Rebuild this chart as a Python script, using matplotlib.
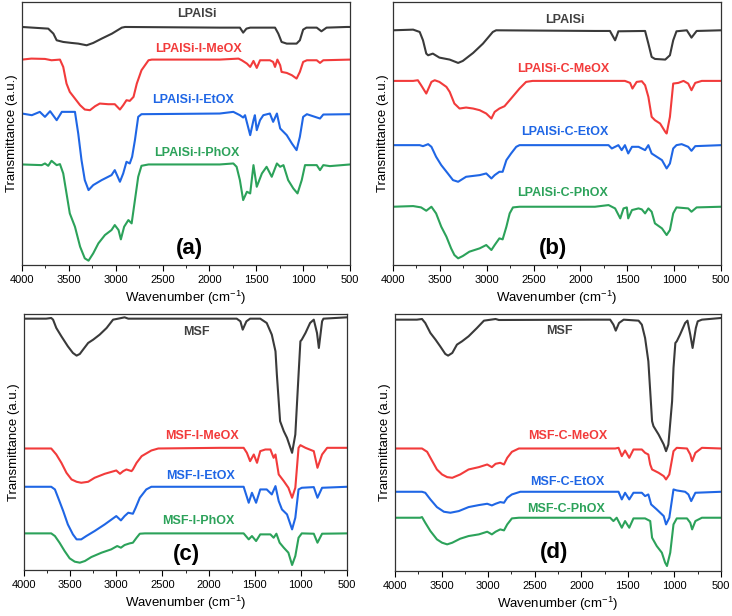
import matplotlib
matplotlib.use("Agg")
import matplotlib.pyplot as plt
from matplotlib.ticker import MultipleLocator

plt.rcParams['font.family'] = ['Liberation Sans', 'DejaVu Sans']
plt.rcParams['mathtext.default'] = 'regular'

# ---- panel (a) ----
a_gray_w = [4000, 3720, 3665, 3630, 3560, 3470, 3400, 3310, 3240, 3150, 3040, 2935, 2900, 1890, 1675, 1640, 1605, 1565, 1300, 1265, 1230, 1175, 1070, 1035, 1000, 965, 855, 805, 750, 535, 500]
a_gray_t = [72.0, 71.5, 70.0, 68.0, 67.5, 67.2, 67.0, 66.5, 67.2, 68.5, 70.0, 71.8, 72.0, 71.8, 71.8, 70.3, 71.5, 71.8, 71.8, 70.0, 67.5, 67.0, 67.0, 68.0, 71.2, 71.8, 71.8, 70.7, 71.8, 72.0, 72.0]
a_red_w = [4000, 3900, 3755, 3685, 3595, 3560, 3525, 3490, 3435, 3380, 3330, 3275, 3220, 3170, 3080, 3010, 2955, 2920, 2885, 2850, 2810, 2775, 2725, 2650, 2615,
           1890, 1690, 1655, 1600, 1565, 1530, 1495, 1460, 1355, 1320, 1300, 1275, 1245, 1230, 1175, 1120, 1070, 1035, 1000, 960, 855, 820, 785, 500]
a_red_t = [62.2, 62.5, 62.4, 62.0, 62.2, 60.0, 55.0, 52.5, 50.5, 48.5, 47.2, 47.0, 48.2, 49.0, 48.8, 48.8, 47.2, 48.5, 50.0, 49.8, 51.0, 55.0, 59.0, 62.0, 62.2,
           62.2, 62.5, 62.0, 61.0, 60.0, 61.8, 59.7, 62.0, 62.0, 61.5, 60.0, 62.2, 60.5, 58.5, 58.2, 57.5, 56.5, 58.5, 61.5, 62.0, 62.0, 61.2, 62.0, 62.2]
a_blue_w = [4000, 3895, 3810, 3755, 3700, 3630, 3575, 3435, 3400, 3365, 3330, 3290, 3240, 3150, 3045, 3010, 2955, 2920, 2885, 2850, 2825, 2795, 2760, 2725,
            1890, 1745, 1675, 1640, 1620, 1565, 1530, 1515, 1495, 1460, 1425, 1355, 1320, 1280, 1245, 1210, 1175, 1120, 1070, 1035, 1000, 960, 820, 785, 500]
a_blue_t = [46.0, 45.5, 46.5, 45.0, 46.7, 44.0, 46.5, 46.5, 40.0, 32.0, 26.0, 23.0, 24.5, 26.0, 27.5, 29.0, 25.5, 28.0, 31.5, 31.0, 33.0, 38.0, 45.0, 45.8,
            46.0, 46.5, 45.5, 44.8, 45.5, 39.5, 44.0, 45.5, 41.0, 44.0, 45.5, 46.0, 43.5, 46.0, 41.5, 40.5, 39.5, 37.0, 35.0, 39.0, 45.0, 45.8, 44.5, 45.7, 45.8]
a_green_w = [4000, 3790, 3755, 3720, 3685, 3630, 3595, 3560, 3525, 3490, 3435, 3380, 3330, 3290, 3240, 3185, 3115, 3045, 3010, 2970, 2945, 2910, 2865, 2830, 2795, 2760, 2725, 2650,
             1890, 1745, 1710, 1675, 1640, 1600, 1565, 1530, 1495, 1440, 1390, 1335, 1280, 1245, 1210, 1160, 1105, 1060, 1015, 980, 855, 820, 785, 715, 500]
a_green_t = [30.7, 30.5, 31.0, 30.3, 31.8, 30.5, 30.8, 28.0, 22.0, 16.0, 12.0, 6.0, 2.5, 1.8, 4.0, 7.0, 9.5, 11.0, 12.5, 11.0, 8.2, 12.0, 14.0, 13.0, 20.0, 27.0, 30.3, 30.7,
             30.7, 31.0, 30.0, 26.0, 20.0, 22.5, 22.0, 30.5, 24.0, 28.0, 30.0, 27.0, 31.0, 30.0, 30.5, 26.0, 23.5, 22.0, 26.0, 30.5, 30.5, 29.0, 30.5, 30.2, 30.7]

# ---- panel (b) ----
b_gray_w = [4000, 3785, 3715, 3680, 3645, 3625, 3575, 3505, 3395, 3305, 3255, 3145, 3040, 2935, 2900,
            1845, 1685, 1630, 1610, 1595, 1310, 1275, 1240, 1205, 1095, 1045, 1010, 975, 865, 815, 760, 500]
b_gray_t = [71.0, 71.2, 70.5, 68.0, 64.0, 63.5, 64.0, 62.8, 62.2, 61.2, 61.8, 64.2, 67.0, 70.5, 71.0,
            70.8, 70.8, 68.0, 69.5, 70.7, 70.8, 67.0, 63.0, 62.4, 62.2, 63.5, 68.0, 70.7, 71.0, 68.8, 70.8, 71.0]
b_red_w = [4000, 3785, 3735, 3700, 3645, 3590, 3555, 3505, 3430, 3395, 3345, 3290, 3220, 3145, 3075, 3005, 2950, 2915, 2865, 2810, 2740, 2650, 2580, 2510,
           1845, 1525, 1470, 1445, 1400, 1345, 1310, 1275, 1240, 1205, 1150, 1095, 1080, 1045, 1010, 955, 900, 850, 815, 775, 705, 500]
b_red_t = [55.8, 55.8, 56.0, 54.5, 52.0, 55.5, 56.0, 55.5, 54.0, 52.5, 49.0, 47.5, 47.8, 47.5, 47.0, 46.0, 44.5, 46.5, 47.5, 48.2, 50.5, 53.5, 55.5, 55.8,
           55.8, 55.8, 55.2, 53.5, 55.5, 55.7, 54.5, 51.0, 45.0, 44.0, 43.0, 40.5, 40.0, 45.0, 55.0, 55.2, 55.8, 55.0, 53.0, 55.2, 55.8, 55.8]
b_blue_w = [4000, 3715, 3680, 3625, 3590, 3540, 3485, 3415, 3360, 3305, 3220, 3075, 3005, 2950, 2915, 2865, 2830, 2790, 2740, 2685, 2650,
            1845, 1700, 1665, 1630, 1595, 1560, 1525, 1490, 1450, 1380, 1310, 1275, 1240, 1185, 1130, 1080, 1045, 1010, 975, 920, 850, 815, 775, 500]
b_blue_t = [36.5, 36.5, 36.2, 36.8, 36.0, 33.0, 30.5, 28.0, 26.0, 25.5, 27.0, 27.5, 28.0, 26.5, 27.5, 28.5, 28.5, 32.0, 34.0, 36.0, 36.5,
            36.5, 36.5, 35.5, 36.0, 36.5, 35.0, 36.5, 34.0, 36.0, 36.0, 35.0, 36.5, 34.0, 33.0, 32.0, 29.5, 31.0, 35.5, 36.5, 36.8, 36.0, 34.8, 36.2, 36.5]
b_green_w = [4000, 3785, 3700, 3645, 3590, 3540, 3485, 3430, 3380, 3345, 3305, 3255, 3185, 3075, 3005, 2950, 2915, 2865, 2830, 2790, 2755, 2720, 2650,
             1845, 1700, 1630, 1575, 1540, 1505, 1490, 1450, 1380, 1345, 1310, 1275, 1240, 1205, 1130, 1080, 1045, 1010, 975, 850, 815, 760, 500]
b_green_t = [18.0, 18.2, 17.8, 16.8, 18.0, 16.0, 12.0, 9.0, 5.5, 3.5, 2.5, 3.2, 4.5, 5.5, 6.5, 5.0, 6.5, 8.5, 8.2, 12.0, 16.0, 17.8, 18.0,
             18.0, 18.5, 17.5, 14.5, 17.5, 17.8, 14.5, 17.0, 17.5, 17.2, 16.0, 17.5, 16.5, 13.0, 11.5, 9.5, 11.0, 16.0, 17.8, 17.5, 16.5, 17.8, 18.0]

# ---- panel (c) ----
c_gray_w = [4000, 3760, 3705, 3685, 3650, 3595, 3525, 3470, 3430, 3395, 3360, 3305, 3250, 3180, 3105, 3035, 2980, 2910, 2870,
            1875, 1695, 1655, 1630, 1590, 1550, 1440, 1370, 1315, 1275, 1260, 1240, 1225, 1185, 1150, 1095, 1060, 1025, 1005, 990, 950, 900, 860, 825, 805, 770, 755, 500]
c_gray_t = [76.8, 76.8, 77.0, 76.5, 74.0, 71.5, 68.5, 66.5, 65.7, 66.2, 67.5, 69.5, 70.5, 72.0, 74.0, 76.5, 76.8, 77.2, 76.8,
            76.8, 76.8, 76.0, 73.5, 76.0, 76.8, 76.8, 75.5, 72.0, 67.0, 60.0, 52.0, 46.0, 43.0, 41.0, 36.5, 42.0, 60.0, 70.0, 70.5, 72.5, 75.5, 76.5, 72.5, 68.0, 76.0, 76.8, 77.2]
c_red_w = [4000, 3705, 3650, 3595, 3540, 3485, 3430, 3380, 3305, 3235, 3125, 3000, 2960, 2925, 2890, 2835, 2820, 2780, 2725, 2620, 2545,
           1875, 1620, 1585, 1550, 1510, 1475, 1440, 1385, 1330, 1295, 1275, 1240, 1185, 1135, 1095, 1060, 1025, 1005, 950, 860, 820, 770, 715, 500]
c_red_t = [37.8, 37.8, 36.0, 33.5, 30.5, 28.5, 27.8, 27.5, 27.8, 29.0, 30.2, 31.2, 30.2, 31.0, 31.5, 31.0, 31.5, 33.5, 35.5, 37.2, 37.8,
           38.0, 38.0, 36.5, 34.0, 36.0, 33.5, 37.0, 37.5, 37.5, 35.0, 36.0, 30.0, 28.0, 26.0, 23.0, 26.0, 38.0, 38.8, 38.0, 37.0, 32.0, 36.0, 38.0, 38.0]
c_blue_w = [4000, 3705, 3665, 3630, 3575, 3525, 3470, 3430, 3380, 3325, 3235, 3125, 3000, 2950, 2910, 2870, 2820, 2790, 2745, 2675, 2620,
            1875, 1620, 1565, 1530, 1485, 1440, 1370, 1315, 1275, 1240, 1205, 1150, 1095, 1060, 1025, 990, 860, 820, 770, 500]
c_blue_t = [26.3, 26.3, 25.5, 23.0, 19.0, 15.0, 12.0, 10.5, 10.5, 11.5, 13.0, 15.0, 17.5, 16.2, 17.5, 18.5, 18.2, 20.0, 23.0, 25.5, 26.3,
            26.3, 26.3, 21.5, 24.5, 21.5, 25.5, 25.5, 24.0, 26.5, 22.0, 19.5, 18.0, 13.5, 17.0, 25.5, 26.0, 26.2, 23.0, 26.0, 26.3]
c_green_w = [4000, 3705, 3665, 3615, 3560, 3505, 3450, 3395, 3340, 3270, 3160, 3055, 2990, 2950, 2910, 2855, 2820, 2780, 2745, 2690,
             1875, 1620, 1565, 1530, 1485, 1440, 1330, 1295, 1265, 1230, 1185, 1135, 1095, 1060, 1025, 990, 860, 820, 770, 500]
c_green_t = [12.3, 12.3, 11.5, 9.5, 7.0, 4.8, 3.8, 3.5, 4.0, 5.2, 6.5, 7.5, 8.5, 8.0, 8.8, 9.3, 9.5, 11.0, 12.2, 12.3,
             12.3, 12.3, 10.5, 11.5, 10.0, 12.0, 12.0, 11.0, 12.2, 9.5, 8.0, 6.5, 2.8, 5.5, 11.0, 12.3, 12.2, 9.5, 12.2, 12.3]

# ---- panel (d) ----
d_gray_w = [4000, 3765, 3710, 3675, 3620, 3565, 3515, 3460, 3430, 3385, 3335, 3280, 3210, 3120, 3045, 2920, 2885,
            1885, 1690, 1655, 1630, 1595, 1545, 1385, 1350, 1315, 1280, 1260, 1240, 1225, 1170, 1115, 1090, 1065, 1025, 1010, 990, 975, 940, 885, 860, 830, 805, 770, 750, 705, 500]
d_gray_t = [76.5, 76.5, 76.7, 75.5, 72.5, 70.5, 68.5, 66.2, 65.7, 66.5, 69.0, 70.0, 71.5, 74.0, 76.2, 76.7, 76.4,
            76.5, 76.5, 75.0, 73.2, 75.5, 76.5, 76.2, 75.0, 71.0, 64.0, 55.0, 46.0, 44.5, 42.0, 39.0, 37.0, 39.0, 52.0, 62.0, 69.5, 70.0, 72.0, 75.5, 76.2, 72.0, 68.0, 74.0, 76.0, 76.5, 77.0]
d_red_w = [4000, 3710, 3655, 3600, 3550, 3495, 3440, 3385, 3300, 3210, 3100, 3010, 2960, 2920, 2870, 2830, 2795, 2745, 2670,
           1885, 1635, 1600, 1565, 1530, 1485, 1440, 1350, 1315, 1280, 1260, 1240, 1170, 1115, 1090, 1055, 1010, 975, 865, 830, 810, 775, 705, 500]
d_red_t = [37.8, 37.8, 36.8, 34.0, 31.5, 30.0, 29.2, 29.0, 30.0, 31.5, 32.2, 33.0, 32.2, 33.2, 33.5, 33.0, 35.0, 36.8, 37.8,
           37.8, 37.8, 38.0, 35.5, 37.2, 35.0, 37.5, 37.5, 36.5, 36.0, 33.0, 31.5, 30.5, 29.5, 28.5, 30.0, 37.0, 38.0, 37.8, 36.0, 34.0, 36.5, 38.0, 37.8]
d_blue_w = [4000, 3710, 3675, 3620, 3550, 3475, 3405, 3315, 3210, 3100, 3010, 2960, 2920, 2870, 2830, 2795, 2745, 2655,
            1885, 1600, 1565, 1530, 1485, 1440, 1350, 1315, 1280, 1250, 1190, 1115, 1090, 1055, 1010, 975, 885, 850, 820, 775, 500]
d_blue_t = [24.8, 24.8, 24.5, 22.5, 20.2, 18.8, 18.5, 19.0, 20.2, 20.8, 21.2, 20.7, 21.2, 21.7, 21.5, 23.0, 24.0, 24.8,
            24.8, 24.8, 22.5, 24.5, 22.5, 24.5, 24.5, 23.5, 24.0, 21.0, 19.5, 17.5, 15.0, 17.0, 25.5, 25.2, 24.8, 24.0, 22.0, 24.5, 24.8]
d_green_w = [4000, 3730, 3710, 3675, 3620, 3550, 3495, 3440, 3385, 3300, 3210, 3100, 3010, 2960, 2920, 2870, 2830, 2795, 2745, 2670,
             1885, 1690, 1655, 1620, 1565, 1530, 1485, 1440, 1315, 1260, 1240, 1190, 1135, 1100, 1080, 1045, 1010, 975, 865, 830, 810, 775, 705, 500]
d_green_t = [17.0, 17.0, 17.2, 15.5, 13.0, 10.5, 9.5, 9.0, 9.5, 10.7, 11.5, 12.0, 12.8, 12.0, 12.8, 13.5, 13.2, 15.0, 16.8, 17.0,
             17.0, 17.0, 16.0, 17.0, 14.0, 16.0, 14.0, 16.8, 16.8, 16.0, 11.0, 8.5, 6.5, 3.5, 2.5, 6.5, 15.0, 16.8, 16.8, 15.5, 13.5, 16.0, 17.0, 17.0]

gray, red, blue, green = '#3a3a3a', '#f23b3b', '#1f66e5', '#2ca25a'
colors = [gray, red, blue, green]

labels_a = ['LPAlSi', 'LPAlSi-I-MeOX', 'LPAlSi-I-EtOX', 'LPAlSi-I-PhOX']
labels_b = ['LPAlSi', 'LPAlSi-C-MeOX', 'LPAlSi-C-EtOX', 'LPAlSi-C-PhOX']
labels_c = ['MSF', 'MSF-I-MeOX', 'MSF-I-EtOX', 'MSF-I-PhOX']
labels_d = ['MSF', 'MSF-C-MeOX', 'MSF-C-EtOX', 'MSF-C-PhOX']

fig = plt.figure(figsize=(7.32, 6.16), dpi=100)

panels = [
    ([22/732, 1-265/616, 328/732, 263/616], (0.5, 79.5),
     [(a_gray_w, a_gray_t), (a_red_w, a_red_t), (a_blue_w, a_blue_t), (a_green_w, a_green_t)],
     labels_a, [(2136, 76.0), (2120, 65.5), (2170, 50.0), (2136, 34.2)], '(a)', (2210, 5.5)),
    ([393/732, 1-265/616, 328/732, 263/616], (0.5, 79.5),
     [(b_gray_w, b_gray_t), (b_red_w, b_red_t), (b_blue_w, b_blue_t), (b_green_w, b_green_t)],
     labels_b, [(2170, 74.0), (2188, 59.5), (2170, 40.5), (2188, 22.0)], '(b)', (2295, 5.5)),
    ([24/732, 1-570/616, 323/732, 256/616], (1.3, 78.2),
     [(c_gray_w, c_gray_t), (c_red_w, c_red_t), (c_blue_w, c_blue_t), (c_green_w, c_green_t)],
     labels_c, [(2127, 72.8), (2073, 41.5), (2091, 29.5), (2109, 16.0)], '(c)', (2235, 6.0)),
    ([395/732, 1-571/616, 326/732, 257/616], (1.0, 78.2),
     [(d_gray_w, d_gray_t), (d_red_w, d_red_t), (d_blue_w, d_blue_t), (d_green_w, d_green_t)],
     labels_d, [(2238, 73.0), (2148, 41.5), (2148, 27.8), (2166, 19.7)], '(d)', (2291, 6.5)),
]

for rect, ylim, curves, names, spots, tag, tag_xy in panels:
    ax = fig.add_axes(rect)
    for (w, t), col in zip(curves, colors):
        ax.plot(w, t, color=col, lw=1.5)
    for name, (x, y), col in zip(names, spots, colors):
        ax.text(x, y, name, color='#404040' if col == gray else col, fontsize=9,
                fontweight='bold', ha='center', va='center')
    ax.text(tag_xy[0], tag_xy[1], tag, fontsize=16, fontweight='bold', ha='center', va='center')
    ax.set_xlim(4000, 500)
    ax.set_ylim(*ylim)
    ax.set_yticks([])
    ax.xaxis.set_major_locator(MultipleLocator(500))
    ax.xaxis.set_minor_locator(MultipleLocator(250))
    ax.tick_params(axis='x', which='major', length=4, labelsize=8, pad=3)
    ax.tick_params(axis='x', which='minor', length=2.5)
    for s in ax.spines.values():
        s.set_color('#333333')
        s.set_linewidth(0.9)
    ax.set_xlabel('Wavenumber (cm$^{-1}$)', fontsize=9.5, labelpad=3)
    ax.set_ylabel('Transmittance (a.u.)', fontsize=9.5, labelpad=3)

fig.savefig('out.png', dpi=100)
